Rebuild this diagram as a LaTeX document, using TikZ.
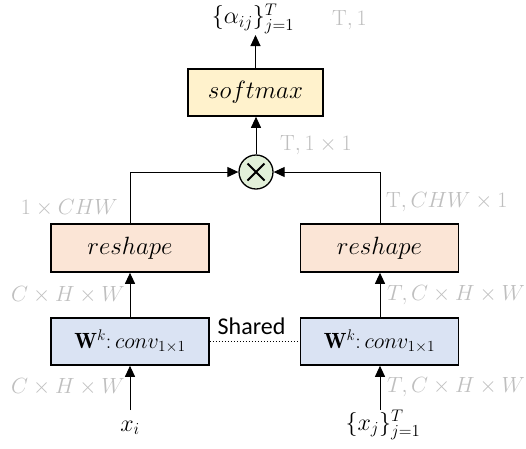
\RequirePackage{fix-cm}
\documentclass[tikz,border=0pt]{standalone}
\usepackage{amsmath}
\usepackage{fontspec}
\newfontfamily\carl{Carlito}
\usetikzlibrary{arrows.meta}
\definecolor{lblgray}{HTML}{BFBFBF}
\definecolor{softfill}{HTML}{FFF2CC}
\definecolor{resfill}{HTML}{FBE5D6}
\definecolor{convfill}{HTML}{DAE3F3}
\definecolor{mulfill}{HTML}{E2F0D9}
\tikzset{
  big/.style={font=\fontsize{22}{26}\selectfont},
  bigger/.style={font=\fontsize{25}{30}\selectfont},
  box/.style={draw=black, line width=1.6pt, inner sep=0pt},
  softbox/.style={box, bigger, fill=softfill, minimum width=135pt, minimum height=47pt},
  resbox/.style={box, bigger, fill=resfill, minimum width=158pt, minimum height=48pt},
  convbox/.style={box, big, fill=convfill, minimum width=158pt, minimum height=47pt},
  mulnode/.style={circle, draw=black, line width=1.3pt, fill=mulfill, minimum size=34pt, inner sep=0pt},
  lbl/.style={text=lblgray, font=\fontsize{22}{26}\selectfont, inner sep=0pt},
  txt/.style={text=black, font=\fontsize{24}{28}\selectfont, inner sep=0pt},
  conn/.style={line width=1pt, -{Triangle[length=11pt,width=10pt]}},
}
\begin{document}
\begin{tikzpicture}[x=1pt,y=-1pt]
\useasboundingbox (0,0) rectangle (526,448);
% boxes
\node[softbox] (soft) at (255.5,92.5) {$softmax$};
\node[mulnode] (mul) at (256,172) {};
\draw[line width=2pt] ([shift={(-8.5,-8.5)}]mul.center) -- ([shift={(8.5,8.5)}]mul.center);
\draw[line width=2pt] ([shift={(-8.5,8.5)}]mul.center) -- ([shift={(8.5,-8.5)}]mul.center);
\node[resbox] (resL) at (130,248) {$reshape$};
\node[resbox] (resR) at (379.5,248) {$reshape$};
\node[convbox] (convL) at (130,341.5) {$\mathbf{W}^k{:}\,conv_{1\times1}$};
\node[convbox] (convR) at (379.5,341.5) {$\mathbf{W}^k{:}\,conv_{1\times1}$};
% texts
\node[txt] (out) at (253,18.5) {$\{\alpha_{ij}\}_{j=1}^{T}$};
\node[txt] (xi) at (130,428) {$x_i$};
\node[txt] (xj) at (383,425) {$\{x_j\}_{j=1}^{T}$};
\node[font=\carl\fontsize{24}{28}\selectfont, inner sep=0pt] (shared) at (251.5,326) {Shared};
% gray labels
\node[lbl, anchor=west] (l1) at (332,20) {$\mathrm{T},1$};
\node[lbl, anchor=west] (l2) at (280,145) {$\mathrm{T},1\times1$};
\node[lbl, anchor=east] (l3) at (118,208) {$1\times CHW$};
\node[lbl, anchor=west] (l4) at (386,202) {$\mathrm{T},CHW\times1$};
\node[lbl, anchor=east] (l5) at (125,295) {$C\times H\times W$};
\node[lbl, anchor=west] (l6) at (387,295) {$T,C\times H\times W$};
\node[lbl, anchor=east] (l7) at (125,387) {$C\times H\times W$};
\node[lbl, anchor=west] (l8) at (387,387) {$T,C\times H\times W$};
% coordinates
\coordinate (inL) at (130,410);
\coordinate (inR) at (380,410);
\coordinate (outtip) at (255.5,35);
% connectors
\draw[conn] (inL) -- (convL.south);
\draw[conn] (inR) -- (convR.south -| inR);
\draw[conn] (convL.north) -- (resL.south);
\draw[conn] (convR.north -| inR) -- (resR.south -| inR);
\draw[conn] (resL.north) |- (mul.west);
\draw[conn] (resR.north -| inR) |- (mul.east);
\draw[conn] (mul.north) -- (soft.south -| mul.north);
\draw[conn] (soft.north) -- (outtip);
\draw[line width=1pt, dotted] (convL.east) -- (convR.west);
\end{tikzpicture}
\end{document}
